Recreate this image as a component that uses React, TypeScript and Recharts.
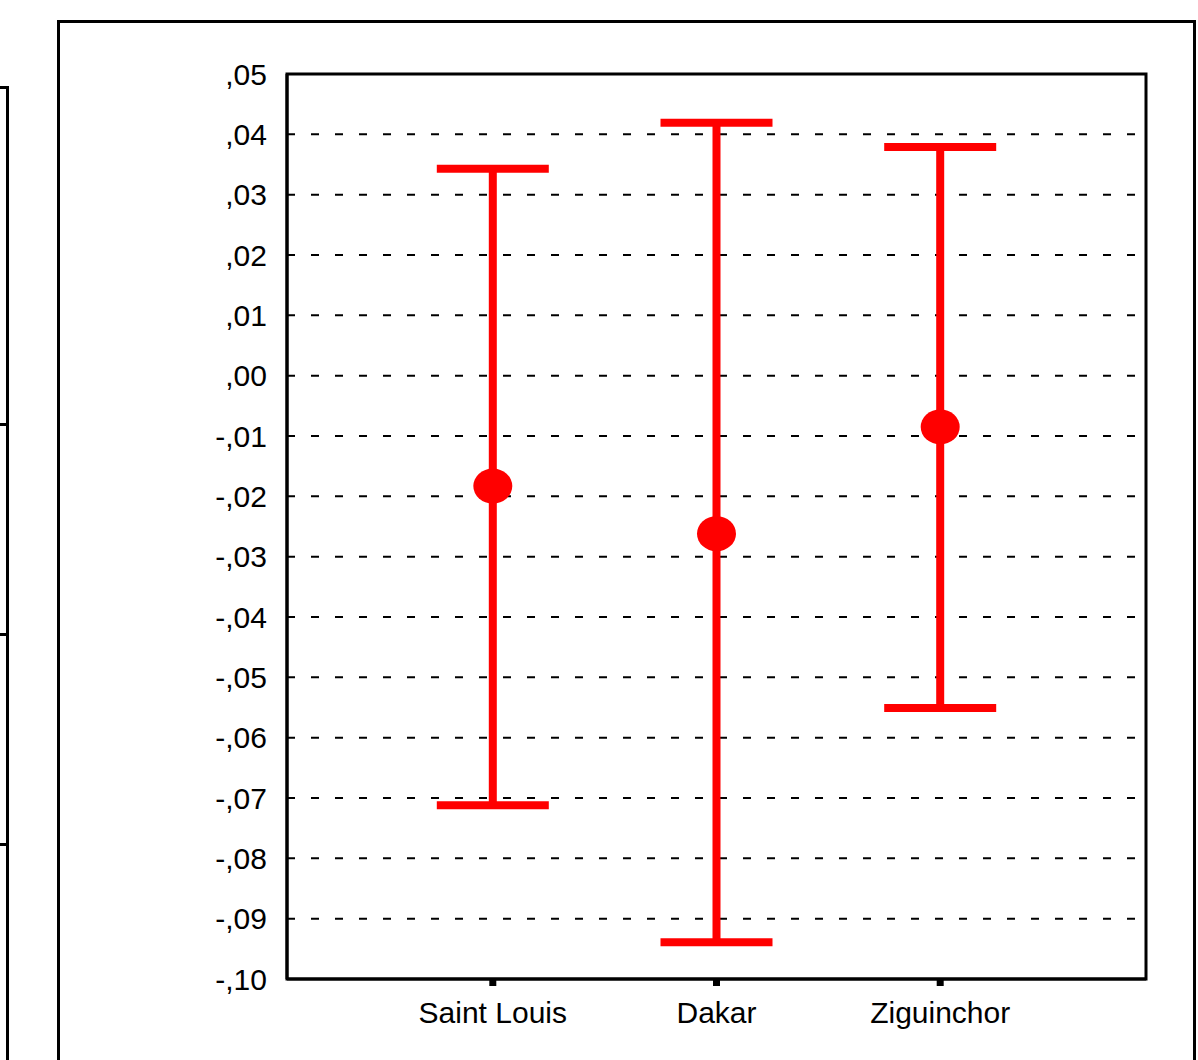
import {
  ComposedChart,
  Scatter,
  ErrorBar,
  XAxis,
  YAxis,
  CartesianGrid,
  ReferenceArea,
} from "recharts";

const categories = ["Saint Louis", "Dakar", "Ziguinchor"];
const means = [-0.0183, -0.0262, -0.0085];
const lows = [-0.0712, -0.0939, -0.0551];
const highs = [0.0343, 0.0419, 0.0379];
const yTicks = [0.05, 0.04, 0.03, 0.02, 0.01, 0, -0.01, -0.02, -0.03, -0.04, -0.05, -0.06, -0.07, -0.08, -0.09, -0.1];

const RED = "#ff0000";
const FONT = "'Liberation Sans', Arial, sans-serif";

const data = categories.map((name, i) => ({
  x: i + 1,
  name,
  mean: means[i],
  err: [means[i] - lows[i], highs[i] - means[i]],
}));

function fmtTick(v: number) {
  const r = Math.round(v * 100);
  const s = Math.abs(r).toString().padStart(2, "0");
  return (r < 0 ? "-," : ",") + s;
}

const MeanDot = (p: any) => (
  <ellipse cx={p.cx} cy={p.cy} rx={19.5} ry={17.5} fill={RED} />
);

export default function App() {
  return (
    <div
      style={{
        position: "absolute",
        left: 0,
        top: 0,
        width: 1198,
        height: 1060,
        background: "#fff",
        overflow: "hidden",
        fontFamily: FONT,
      }}
    >
      {/* left neighbour panel (partly cut off) */}
      <div
        style={{
          position: "absolute",
          left: -20,
          top: 86,
          width: 26,
          height: 1000,
          borderTop: "3px solid #000",
          borderRight: "3px solid #000",
        }}
      />
      {[424, 634, 844].map((y) => (
        <div
          key={y}
          style={{ position: "absolute", left: 0, top: y - 1, width: 8, height: 3, background: "#000" }}
        />
      ))}

      {/* outer frame */}
      <div
        style={{
          position: "absolute",
          left: 57,
          top: 20,
          width: 1133,
          height: 1100,
          border: "3px solid #000",
        }}
      />

      <div style={{ position: "absolute", left: 0, top: 0 }}>
        <ComposedChart
          width={1198}
          height={1060}
          data={data}
          margin={{ top: 74, right: 52, bottom: 0, left: 0 }}
        >
          <CartesianGrid
            vertical={false}
            stroke="#000"
            strokeWidth={2}
            strokeDasharray="8 16"
          />
          <XAxis
            type="number"
            dataKey="x"
            domain={[0.08, 3.92]}
            ticks={[1, 2, 3]}
            tickFormatter={(v: number) => categories[v - 1] ?? ""}
            height={81}
            axisLine={{ stroke: "#000", strokeWidth: 3 }}
            tickLine={{ stroke: "#000", strokeWidth: 7 }}
            tickSize={7}
            tickMargin={16}
            tick={{ fill: "#000", fontSize: 30, fontFamily: FONT }}
            allowDataOverflow
          />
          <YAxis
            type="number"
            domain={[-0.1, 0.05]}
            ticks={yTicks}
            interval={0}
            tickFormatter={fmtTick}
            width={287}
            axisLine={{ stroke: "#000", strokeWidth: 3 }}
            tickLine={false}
            tickSize={0}
            tickMargin={20}
            tick={{ fill: "#000", fontSize: 30, fontFamily: FONT }}
            allowDataOverflow
          />
          <ReferenceArea
            x1={0.08}
            x2={3.92}
            y1={-0.1}
            y2={0.05}
            fill="none"
            stroke="#000"
            strokeWidth={3}
            ifOverflow="visible"
          />
          <Scatter dataKey="mean" fill={RED} shape={MeanDot} isAnimationActive={false}>
            <ErrorBar
              dataKey="err"
              direction="y"
              width={56}
              stroke={RED}
              strokeWidth={8}
              isAnimationActive={false}
            />
          </Scatter>
        </ComposedChart>
      </div>
    </div>
  );
}
